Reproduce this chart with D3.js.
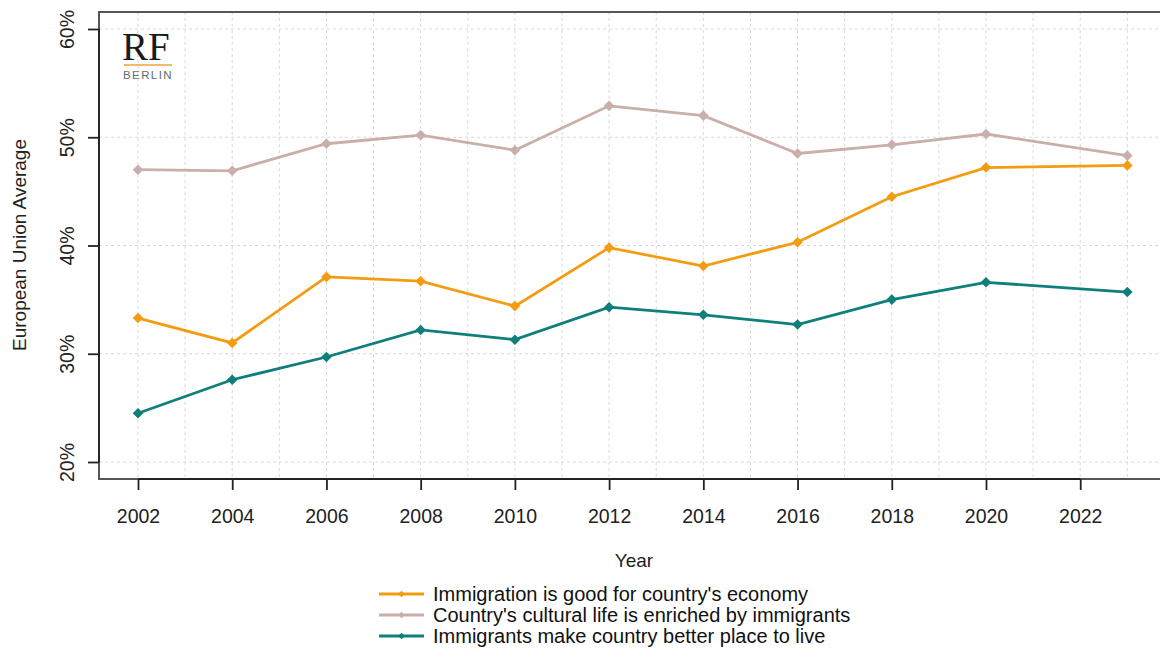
<!DOCTYPE html>
<html><head><meta charset="utf-8">
<script src="https://cdn.jsdelivr.net/npm/d3@7"></script>
<style>body{margin:0;background:#fff;} svg{display:block;font-family:"Liberation Sans",Arial,sans-serif;}</style>
</head><body>
<svg id="c" width="1160" height="648"></svg>
<script>
const years = [2002, 2004, 2006, 2008, 2010, 2012, 2014, 2016, 2018, 2020, 2023];
const economy = [33.3, 31.0, 37.1, 36.7, 34.4, 39.8, 38.1, 40.3, 44.5, 47.2, 47.4];
const culture = [47.0, 46.9, 49.4, 50.2, 48.8, 52.9, 52.0, 48.5, 49.3, 50.3, 48.3];
const better  = [24.5, 27.6, 29.7, 32.2, 31.3, 34.3, 33.6, 32.7, 35.0, 36.6, 35.7];
const seriesNames = ["Immigration is good for country's economy", "Country's cultural life is enriched by immigrants", "Immigrants make country better place to live"];
const seriesColors = ["#f39c12", "#c9aea9", "#0e7f7a"];
const xTicks = [2002, 2004, 2006, 2008, 2010, 2012, 2014, 2016, 2018, 2020, 2022];
const yTicks = [20, 30, 40, 50, 60];
const gridYears = d3.range(2002, 2025);

(function () {
const svg = d3.select("#c");
const x = d3.scaleLinear().domain([2002, 2020]).range([138, 986]);
const y = d3.scaleLinear().domain([20, 60]).range([462, 29]);
const mLeft = 99, mTop = 12, mBottom = 479, mRight = 1166;
const FONT = "Liberation Sans, Arial, sans-serif";

// grid
const g = svg.append("g");
g.selectAll(".gv").data(gridYears).enter().append("line")
  .attr("x1", d => x(d)).attr("x2", d => x(d)).attr("y1", mTop).attr("y2", mBottom)
  .attr("stroke", "#d9d9d9").attr("stroke-width", 1).attr("stroke-dasharray", "3,3");
g.selectAll(".gh").data(yTicks).enter().append("line")
  .attr("x1", mLeft).attr("x2", mRight).attr("y1", d => y(d)).attr("y2", d => y(d))
  .attr("stroke", "#d9d9d9").attr("stroke-width", 1).attr("stroke-dasharray", "3,3");

// box
svg.append("rect").attr("x", mLeft).attr("y", mTop).attr("width", mRight - mLeft).attr("height", mBottom - mTop)
  .attr("fill", "none").attr("stroke", "#444").attr("stroke-width", 1.8);

// axes
const xAxis = svg.append("g").attr("transform", `translate(0,${mBottom})`)
  .call(d3.axisBottom(x).tickValues(xTicks).tickFormat(d3.format("d")).tickSize(11).tickPadding(19));
xAxis.select(".domain").attr("d", `M${x(2002)},0H${x(2022)}`).attr("stroke", "#222").attr("stroke-width", 1.8);
xAxis.selectAll(".tick line").attr("stroke", "#222").attr("stroke-width", 1.8);
xAxis.selectAll("text").attr("font-size", 19.5).attr("fill", "#222").attr("font-family", FONT);

const yAxis = svg.append("g").attr("transform", `translate(${mLeft},0)`)
  .call(d3.axisLeft(y).tickValues(yTicks).tickFormat(d => d + "%").tickSize(11));
yAxis.select(".domain").attr("d", `M0,${y(20)}V${y(60)}`).attr("stroke", "#222").attr("stroke-width", 1.8);
yAxis.selectAll(".tick line").attr("stroke", "#222").attr("stroke-width", 1.8);
yAxis.selectAll("text").attr("font-size", 19.5).attr("fill", "#222")
  .attr("font-family", FONT)
  .attr("transform", "rotate(-90)").attr("x", 0).attr("y", -32).attr("dy", "0.35em").attr("text-anchor", "middle");

// titles
svg.append("text").attr("x", 634).attr("y", 567).attr("text-anchor", "middle")
  .attr("font-size", 19).attr("fill", "#222").text("Year");
svg.append("text").attr("transform", "translate(26,245) rotate(-90)").attr("text-anchor", "middle")
  .attr("font-size", 19).attr("fill", "#222").text("European Union Average");

// series
const allSeries = [economy, culture, better];
const line = d3.line().x(d => x(d[0])).y(d => y(d[1]));
const diamond = d3.symbol().type(d3.symbolSquare).size(56);
[1, 0, 2].forEach(i => {
  const data = years.map((yr, j) => [yr, allSeries[i][j]]);
  svg.append("path").datum(data).attr("d", line).attr("fill", "none")
    .attr("stroke", seriesColors[i]).attr("stroke-width", 2.8);
  svg.selectAll(null).data(data).enter().append("path")
    .attr("d", diamond).attr("transform", d => `translate(${x(d[0])},${y(d[1])}) rotate(45)`)
    .attr("fill", seriesColors[i]);
});

// legend
const lg = svg.append("g");
seriesNames.forEach((n, i) => {
  const yy = 594 + i * 21;
  lg.append("line").attr("x1", 379).attr("x2", 424).attr("y1", yy).attr("y2", yy)
    .attr("stroke", seriesColors[i]).attr("stroke-width", 2.8);
  lg.append("path").attr("d", d3.symbol().type(d3.symbolSquare).size(22)())
    .attr("transform", `translate(401.5,${yy}) rotate(45)`).attr("fill", seriesColors[i]);
  lg.append("text").attr("x", 433).attr("y", yy).attr("dy", "0.35em")
    .attr("font-size", 20).attr("fill", "#111").text(n);
});

// logo
svg.append("text").attr("x", 122).attr("y", 60).attr("font-family", "Liberation Serif, DejaVu Serif, serif")
  .attr("font-size", 39).attr("fill", "#1a1a1a").text("RF");
svg.append("line").attr("x1", 124).attr("x2", 172).attr("y1", 65).attr("y2", 65)
  .attr("stroke", "#f0a33a").attr("stroke-width", 1.6);
svg.append("text").attr("x", 148).attr("y", 79).attr("text-anchor", "middle")
  .attr("font-size", 11.5).attr("letter-spacing", "1.4").attr("fill", "#5f6e68").text("BERLIN");
})();
</script>
</body></html>
